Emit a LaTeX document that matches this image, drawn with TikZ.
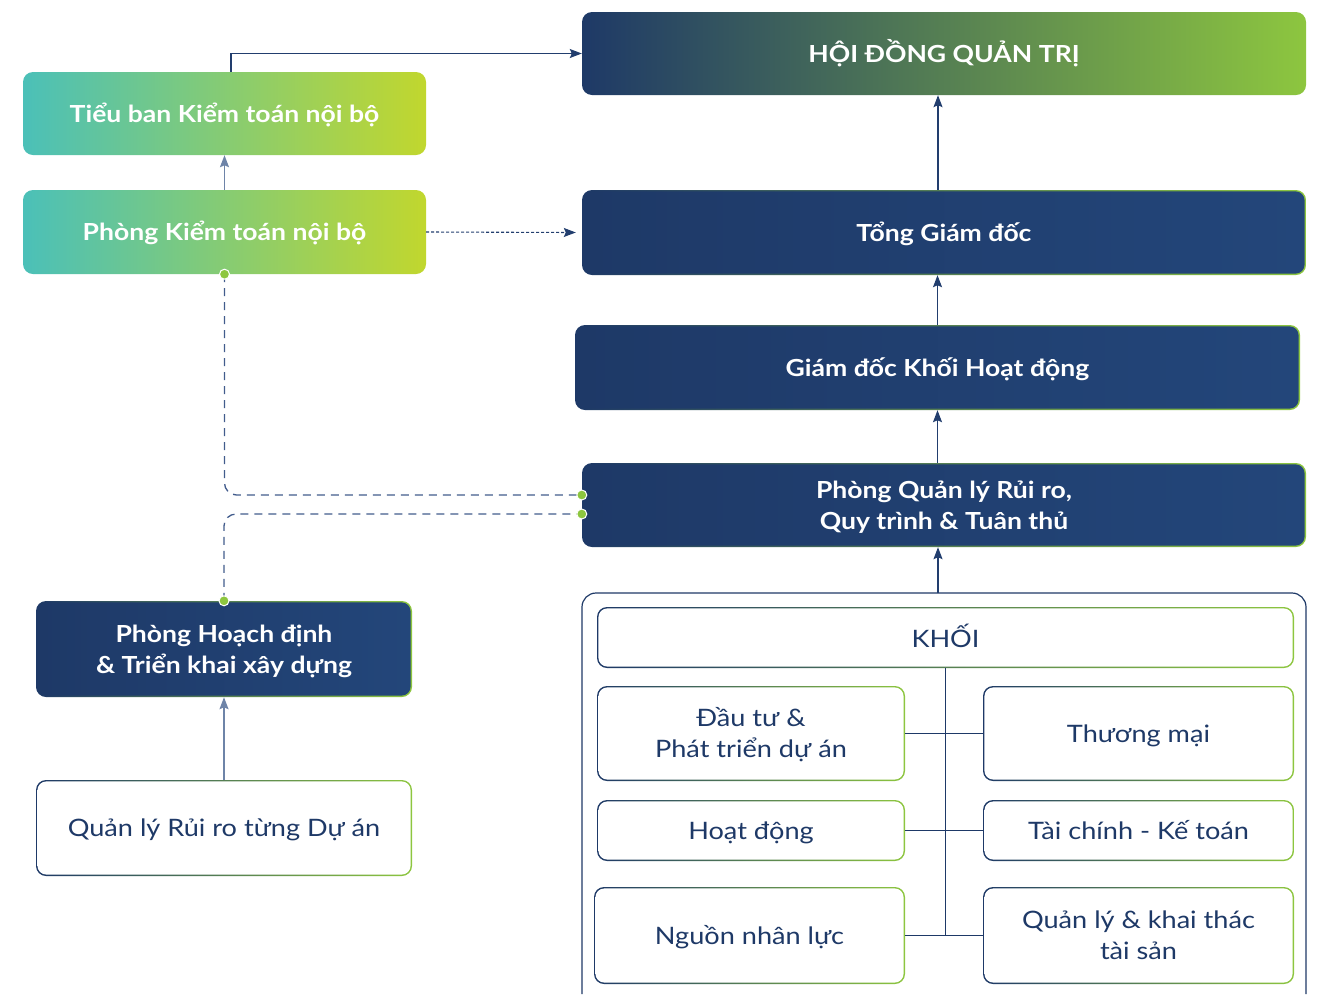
\documentclass[tikz,border=0pt]{standalone}
\usepackage{fontspec}
\setmainfont{Lato}[FakeStretch=1.13]
\usetikzlibrary{arrows.meta}
\definecolor{navy}{RGB}{30,57,103}
\definecolor{navyb}{RGB}{35,70,122}
\definecolor{grn}{RGB}{141,198,63}
\definecolor{cteal}{RGB}{75,192,184}
\definecolor{clime}{RGB}{193,215,46}
\definecolor{lnk}{RGB}{34,62,110}
\definecolor{lnkl}{RGB}{110,132,168}
\definecolor{dsh}{RGB}{66,92,140}
\newcommand{\tx}[1]{\raisebox{-2.5pt}[\height][\depth]{\begin{tabular}{@{}c@{}}#1\end{tabular}}}
\tikzset{
  lbl/.style={inner sep=0pt, font=\fontsize{24}{31}\selectfont},
  wlbl/.style={lbl, text=white, font=\bfseries\fontsize{23.5}{31}\selectfont},
  nlbl/.style={lbl, text=navy},
  gb/.style 2 args={rounded corners=10pt, path picture={
    \shade[left color=navy,right color=grn] (path picture bounding box.south west) rectangle (path picture bounding box.north east);
    \shade[left color=#1,right color=#2,rounded corners=9pt] ([shift={(1.4pt,1.4pt)}]path picture bounding box.south west) rectangle ([shift={(-1.4pt,-1.4pt)}]path picture bounding box.north east);
  }},
  darkbox/.style={wlbl, gb={navy}{navyb}},
  whitebox/.style={nlbl, gb={white}{white}},
  tealbox/.style={wlbl, rounded corners=10pt, left color=cteal, right color=clime},
  arr/.style={draw=lnk, line width=1.1pt, -{Stealth[length=12pt,width=9pt,inset=2pt]}},
  arrl/.style={arr, draw=lnkl, line width=1.6pt},
  dline/.style={draw=dsh, line width=1.3pt, dash pattern=on 8pt off 6pt, rounded corners=12pt},
  dotline/.style={arr, dash pattern=on 3pt off 2pt},
  gdot/.style={fill=grn, draw=white, line width=1pt},
}
\begin{document}
\begin{tikzpicture}[x=1pt,y=-1pt]
\useasboundingbox (0,0) rectangle (1332,994);

% top right
\node[wlbl, rounded corners=10pt, left color=navy, right color=grn, minimum width=724, minimum height=83] (hdqt) at (944,53.5) {\tx{HỘI ĐỒNG QUẢN TRỊ}};
\node[darkbox, minimum width=724, minimum height=85] (tgd) at (944,232.5) {\tx{Tổng Giám đốc}};
\node[darkbox, minimum width=725, minimum height=85] (gdk) at (937.5,367.5) {\tx{Giám đốc Khối Hoạt động}};
\node[darkbox, minimum width=724, minimum height=84] (qlrr) at (944,505) {\tx{Phòng Quản lý Rủi ro,\\Quy trình \& Tuân thủ}};

% left
\node[tealbox, minimum width=403, minimum height=83] (tb) at (224.5,113.5) {\tx{Tiểu ban Kiểm toán nội bộ}};
\node[tealbox, minimum width=403, minimum height=84] (kt) at (224.5,232) {\tx{Phòng Kiểm toán nội bộ}};
\node[darkbox, minimum width=376, minimum height=96] (hdtk) at (224,649) {\tx{Phòng Hoạch định\\\& Triển khai xây dựng}};
\node[whitebox, minimum width=376, minimum height=96] (qlda) at (224,828) {\tx{Quản lý Rủi ro từng Dự án}};

% outer frame of KHOI
\draw[navy, line width=1.2pt, rounded corners=14pt] (582,994) -- (582,593) -- (1306,593) -- (1306,994);
\coordinate (outtop) at (938,593);

\node[whitebox, minimum width=697, minimum height=61] (khoi) at (945.5,637.5) {\tx{KHỐI}};
\node[whitebox, minimum width=308, minimum height=95] (dt) at (751,733.5) {\tx{Đầu tư \&\\Phát triển dự án}};
\node[whitebox, minimum width=311, minimum height=95] (tm) at (1138.5,733.5) {\tx{Thương mại}};
\node[whitebox, minimum width=308, minimum height=61] (hd) at (751,830.5) {\tx{Hoạt động}};
\node[whitebox, minimum width=311, minimum height=61] (tc) at (1138.5,830.5) {\tx{Tài chính - Kế toán}};
\node[whitebox, minimum width=311, minimum height=97] (nnl) at (749.5,935.5) {\tx{Nguồn nhân lực}};
\node[whitebox, minimum width=311, minimum height=97] (qlkt) at (1138.5,935.5) {\tx{Quản lý \& khai thác\\tài sản}};

% KHOI tree
\draw[navy, line width=1.1pt] (khoi.south) -- (khoi.south |- qlkt.west);
\draw[navy, line width=1.1pt] (dt.east) -- (tm.west);
\draw[navy, line width=1.1pt] (hd.east) -- (tc.west);
\draw[navy, line width=1.1pt] (nnl.east) -- (qlkt.west);

% main arrows
\draw[arr] ([xshift=-6pt]tgd.north) -- ([xshift=-6pt]hdqt.south);
\draw[arr] (gdk.north) -- (gdk.north |- tgd.south);
\draw[arr] (qlrr.north -| gdk.north) -- (gdk.south);
\draw[arr] (outtop) -- (outtop |- qlrr.south);
\draw[arr] ([xshift=6.5pt]tb.north) |- (hdqt.west);
\draw[arrl] (kt.north) -- (tb.south);
\draw[arrl] (qlda.north) -- (hdtk.south);
\draw[dotline] (kt.east) -- ([xshift=-6pt]tgd.west);

% dashed links
\draw[dline] (kt.south) |- ([yshift=10pt]qlrr.west);
\draw[dline] (hdtk.north) |- ([yshift=-9pt]qlrr.west);
\draw[gdot] (kt.south) circle (5pt);
\draw[gdot] (hdtk.north) circle (5pt);
\draw[gdot] ([yshift=10pt]qlrr.west) circle (5pt);
\draw[gdot] ([yshift=-9pt]qlrr.west) circle (5pt);
\end{tikzpicture}
\end{document}
